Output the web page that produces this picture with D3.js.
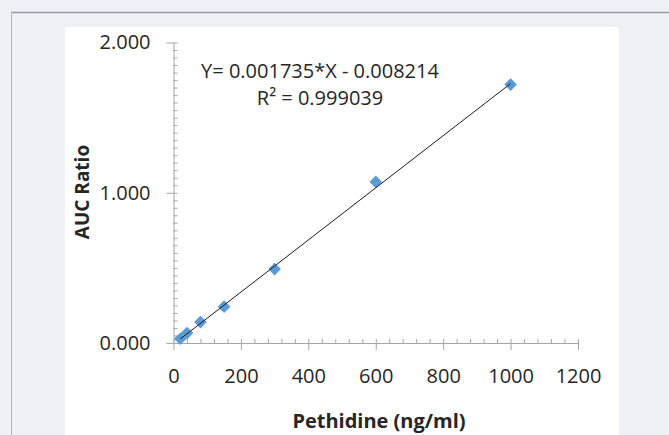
<!DOCTYPE html>
<html>
<head>
<meta charset="utf-8">
<script src="https://cdn.jsdelivr.net/npm/d3@7"></script>
<style>
  body { margin: 0; background: #f0f1f7; }
  text { font-family: "Open Sans", "Noto Sans", sans-serif; fill: #262626; }
</style>
</head>
<body>
<div id="chart"></div>
<script>
// datos de calibración
const concentracion = [20, 40, 80, 150, 300, 600, 1000];
const aucRatio = [0.028, 0.066, 0.139, 0.242, 0.492, 1.072, 1.720];
const xTicks = [0, 200, 400, 600, 800, 1000, 1200];
const yTicks = [0, 1, 2];
const pendiente = 0.001735, intercepto = -0.008214, r2 = 0.999039;

const W = 669, H = 435;

let svg = d3.select('#chart').append('svg')
    .attr('width', W).attr('height', H);

// marco de la página
svg.append('rect').attr('width', W).attr('height', H).attr('fill', '#f0f1f7');
svg.append('line').attr('x1', 11).attr('x2', W).attr('y1', 12.5).attr('y2', 12.5)
    .attr('stroke', '#9a9a9a').attr('stroke-width', 1.5);
svg.append('line').attr('x1', 11.5).attr('x2', 11.5).attr('y1', 12).attr('y2', H)
    .attr('stroke', '#b5b5b5').attr('stroke-width', 1);
svg.append('rect').attr('x', 65).attr('y', 27).attr('width', 554).attr('height', H - 27)
    .attr('fill', '#ffffff');

// escalas
let x = d3.scaleLinear().domain([0, 1200]).range([173.5, 578]);
let y = d3.scaleLinear().domain([0, 2]).range([343, 42.5]);

let estiloEje = function(g) {
    g.selectAll('.domain, .tick line').attr('stroke', '#a6a6a6').attr('stroke-width', 1);
};

// eje X
svg.append('g')
    .attr('transform', 'translate(0,' + y(0) + ')')
    .call(d3.axisBottom(x).tickValues(d3.range(0, 1201, 40)).tickSize(-4).tickFormat(''))
    .call(estiloEje)
    .call(g => g.select('.domain').remove());
svg.append('g')
    .attr('transform', 'translate(0,' + y(0) + ')')
    .call(d3.axisBottom(x).tickValues(xTicks).tickFormat(d3.format('d')).tickSizeInner(7).tickSizeOuter(0).tickPadding(19))
    .call(estiloEje)
    .call(g => g.selectAll('text').attr('font-size', 20).attr('font-family', null).attr('fill', '#262626'));

// eje Y
svg.append('g')
    .attr('transform', 'translate(' + x(0) + ',0)')
    .call(d3.axisLeft(y).tickValues(d3.range(0, 2.001, 0.05)).tickSize(-4).tickFormat(''))
    .call(estiloEje)
    .call(g => g.select('.domain').remove());
svg.append('g')
    .attr('transform', 'translate(' + x(0) + ',0)')
    .call(d3.axisLeft(y).tickValues(yTicks).tickFormat(d3.format('.3f')).tickSizeInner(7).tickSizeOuter(0).tickPadding(16))
    .call(estiloEje)
    .call(g => g.selectAll('text').attr('font-size', 20).attr('font-family', null).attr('fill', '#262626'));

// puntos
let datos = concentracion.map((c, i) => ({x: c, y: aucRatio[i]}));
svg.append('g').selectAll('path')
    .data(datos)
    .enter()
    .append('path')
    .attr('d', d3.symbol(d3.symbolSquare, 80))
    .attr('transform', d => 'translate(' + x(d.x) + ',' + y(d.y) + ') rotate(45)')
    .attr('fill', '#5b9bd5');

// línea de tendencia
let xExt = d3.extent(concentracion);
svg.append('path')
    .datum(xExt.map(v => ({x: v, y: pendiente * v + intercepto})))
    .attr('d', d3.line().x(d => x(d.x)).y(d => y(d.y)))
    .attr('stroke', '#1a1a1a').attr('stroke-width', 1).attr('fill', 'none');

// ecuación
svg.append('text').attr('x', 320).attr('y', 78).attr('text-anchor', 'middle')
    .attr('font-size', 20).text('Y= ' + pendiente.toFixed(6) + '*X - ' + Math.abs(intercepto).toFixed(6));
svg.append('text').attr('x', 320).attr('y', 105).attr('text-anchor', 'middle')
    .attr('font-size', 20).text('R² = ' + r2.toFixed(6));

// títulos
svg.append('text').attr('x', 379).attr('y', 428).attr('text-anchor', 'middle')
    .attr('font-size', 20).attr('font-weight', 'bold').text('Pethidine (ng/ml)');
svg.append('text')
    .attr('transform', 'translate(89,192) rotate(-90)')
    .attr('text-anchor', 'middle')
    .attr('font-size', 19).attr('font-weight', 'bold').text('AUC Ratio');
</script>
</body>
</html>
